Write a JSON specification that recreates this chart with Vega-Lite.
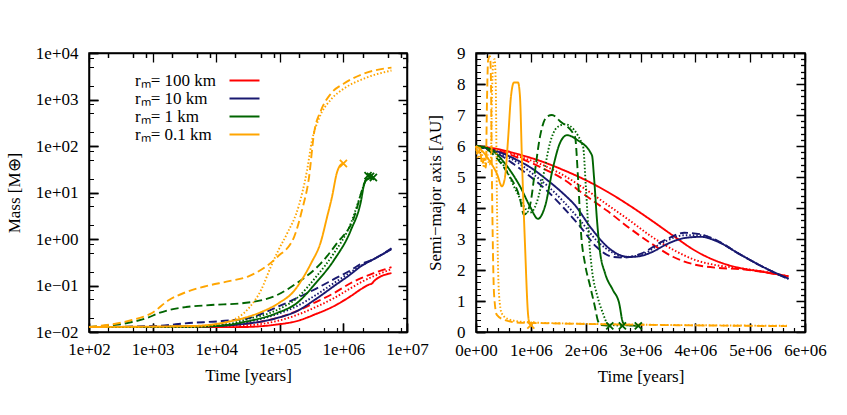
{
  "$schema": "https://vega.github.io/schema/vega-lite/v6.json",
  "background": "white",
  "padding": {"left": 4, "top": 43, "right": 5, "bottom": 5},
  "bounds": "flush",
  "spacing": 69,
  "config": {
    "font": "Liberation Serif",
    "view": {"stroke": "#000", "strokeWidth": 1.5},
    "axis": {"labelFont": "Liberation Serif", "titleFont": "Liberation Serif", "labelFontSize": 17, "titleFontSize": 17, "titleFontWeight": "normal", "labelColor": "#000", "titleColor": "#000", "grid": false, "labelFlush": false, "labelOverlap": false}
  },
  "datasets": {
    "mass": [
      {"t":100,"m":0.0128,"r":"100","s":"solid"},{"t":1000,"m":0.0127,"r":"100","s":"solid"},{"t":10000,"m":0.0127,"r":"100","s":"solid"},{"t":27400,"m":0.0128,"r":"100","s":"solid"},{"t":90400,"m":0.0145,"r":"100","s":"solid"},{"t":186000,"m":0.0172,"r":"100","s":"solid"},{"t":368000,"m":0.0243,"r":"100","s":"solid"},{"t":710000,"m":0.036,"r":"100","s":"solid"},{"t":1310000,"m":0.0593,"r":"100","s":"solid"},{"t":1900000,"m":0.0838,"r":"100","s":"solid"},{"t":2500000,"m":0.104,"r":"100","s":"solid"},{"t":2800000,"m":0.11,"r":"100","s":"solid"},{"t":3100000,"m":0.128,"r":"100","s":"solid"},{"t":5700000,"m":0.185,"r":"100","s":"solid"},
      {"t":100,"m":0.0128,"r":"100","s":"dashed"},{"t":3000,"m":0.013,"r":"100","s":"dashed"},{"t":27400,"m":0.0149,"r":"100","s":"dashed"},{"t":90400,"m":0.02,"r":"100","s":"dashed"},{"t":186000,"m":0.0282,"r":"100","s":"dashed"},{"t":368000,"m":0.044,"r":"100","s":"dashed"},{"t":710000,"m":0.0687,"r":"100","s":"dashed"},{"t":1310000,"m":0.113,"r":"100","s":"dashed"},{"t":1900000,"m":0.144,"r":"100","s":"dashed"},{"t":3000000,"m":0.185,"r":"100","s":"dashed"},{"t":5700000,"m":0.248,"r":"100","s":"dashed"},
      {"t":100,"m":0.0128,"r":"100","s":"dotted"},{"t":3000,"m":0.0128,"r":"100","s":"dotted"},{"t":27400,"m":0.0138,"r":"100","s":"dotted"},{"t":90400,"m":0.0172,"r":"100","s":"dotted"},{"t":186000,"m":0.0232,"r":"100","s":"dotted"},{"t":368000,"m":0.0344,"r":"100","s":"dotted"},{"t":710000,"m":0.0537,"r":"100","s":"dotted"},{"t":1310000,"m":0.0879,"r":"100","s":"dotted"},{"t":1900000,"m":0.118,"r":"100","s":"dotted"},{"t":3000000,"m":0.159,"r":"100","s":"dotted"},{"t":5700000,"m":0.225,"r":"100","s":"dotted"},
      {"t":100,"m":0.0128,"r":"10","s":"solid"},{"t":4480,"m":0.013,"r":"10","s":"solid"},{"t":27400,"m":0.0149,"r":"10","s":"solid"},{"t":90400,"m":0.02,"r":"10","s":"solid"},{"t":186000,"m":0.0282,"r":"10","s":"solid"},{"t":368000,"m":0.051,"r":"10","s":"solid"},{"t":710000,"m":0.097,"r":"10","s":"solid"},{"t":1310000,"m":0.176,"r":"10","s":"solid"},{"t":1900000,"m":0.261,"r":"10","s":"solid"},{"t":3000000,"m":0.369,"r":"10","s":"solid"},{"t":5700000,"m":0.604,"r":"10","s":"solid"},
      {"t":100,"m":0.0128,"r":"10","s":"dashed"},{"t":1130,"m":0.0135,"r":"10","s":"dashed"},{"t":3730,"m":0.0156,"r":"10","s":"dashed"},{"t":12300,"m":0.0172,"r":"10","s":"dashed"},{"t":32800,"m":0.02,"r":"10","s":"dashed"},{"t":90400,"m":0.0344,"r":"10","s":"dashed"},{"t":186000,"m":0.0537,"r":"10","s":"dashed"},{"t":368000,"m":0.085,"r":"10","s":"dashed"},{"t":710000,"m":0.137,"r":"10","s":"dashed"},{"t":1310000,"m":0.214,"r":"10","s":"dashed"},{"t":1750000,"m":0.274,"r":"10","s":"dashed"},{"t":3000000,"m":0.369,"r":"10","s":"dashed"},{"t":5700000,"m":0.63,"r":"10","s":"dashed"},
      {"t":100,"m":0.0128,"r":"10","s":"dotted"},{"t":3000,"m":0.013,"r":"10","s":"dotted"},{"t":27400,"m":0.016,"r":"10","s":"dotted"},{"t":90400,"m":0.0243,"r":"10","s":"dotted"},{"t":186000,"m":0.036,"r":"10","s":"dotted"},{"t":368000,"m":0.0622,"r":"10","s":"dotted"},{"t":710000,"m":0.113,"r":"10","s":"dotted"},{"t":1310000,"m":0.194,"r":"10","s":"dotted"},{"t":1850000,"m":0.261,"r":"10","s":"dotted"},{"t":3000000,"m":0.369,"r":"10","s":"dotted"},{"t":5700000,"m":0.604,"r":"10","s":"dotted"},
      {"t":100,"m":0.0128,"r":"1","s":"solid"},{"t":4480,"m":0.013,"r":"1","s":"solid"},{"t":14800,"m":0.0141,"r":"1","s":"solid"},{"t":27400,"m":0.0164,"r":"1","s":"solid"},{"t":90400,"m":0.0256,"r":"1","s":"solid"},{"t":186000,"m":0.042,"r":"1","s":"solid"},{"t":368000,"m":0.113,"r":"1","s":"solid"},{"t":710000,"m":0.351,"r":"1","s":"solid"},{"t":1310000,"m":1.55,"r":"1","s":"solid"},{"t":1900000,"m":6.8,"r":"1","s":"solid"},{"t":2100000,"m":14.3,"r":"1","s":"solid"},{"t":2350000,"m":19,"r":"1","s":"solid"},{"t":2960000,"m":21,"r":"1","s":"solid"},
      {"t":100,"m":0.0128,"r":"1","s":"dashed"},{"t":474,"m":0.0164,"r":"1","s":"dashed"},{"t":817,"m":0.02,"r":"1","s":"dashed"},{"t":1260,"m":0.0256,"r":"1","s":"dashed"},{"t":1810,"m":0.0297,"r":"1","s":"dashed"},{"t":3350,"m":0.0344,"r":"1","s":"dashed"},{"t":8280,"m":0.038,"r":"1","s":"dashed"},{"t":27400,"m":0.042,"r":"1","s":"dashed"},{"t":90400,"m":0.0622,"r":"1","s":"dashed"},{"t":186000,"m":0.113,"r":"1","s":"dashed"},{"t":445000,"m":0.303,"r":"1","s":"dashed"},{"t":793000,"m":0.813,"r":"1","s":"dashed"},{"t":1470000,"m":2.94,"r":"1","s":"dashed"},{"t":1960000,"m":11.1,"r":"1","s":"dashed"},{"t":2250000,"m":19,"r":"1","s":"dashed"},{"t":2440000,"m":23,"r":"1","s":"dashed"},
      {"t":100,"m":0.0128,"r":"1","s":"dotted"},{"t":4480,"m":0.013,"r":"1","s":"dotted"},{"t":14800,"m":0.0145,"r":"1","s":"dotted"},{"t":27400,"m":0.0181,"r":"1","s":"dotted"},{"t":90400,"m":0.0297,"r":"1","s":"dotted"},{"t":186000,"m":0.0537,"r":"1","s":"dotted"},{"t":368000,"m":0.151,"r":"1","s":"dotted"},{"t":710000,"m":0.496,"r":"1","s":"dotted"},{"t":1310000,"m":2.18,"r":"1","s":"dotted"},{"t":1900000,"m":9.6,"r":"1","s":"dotted"},{"t":2200000,"m":17.4,"r":"1","s":"dotted"},{"t":2670000,"m":22.3,"r":"1","s":"dotted"},
      {"t":100,"m":0.0128,"r":"0.1","s":"solid"},{"t":4480,"m":0.0135,"r":"0.1","s":"solid"},{"t":14800,"m":0.0164,"r":"0.1","s":"solid"},{"t":27400,"m":0.02,"r":"0.1","s":"solid"},{"t":50800,"m":0.0268,"r":"0.1","s":"solid"},{"t":96600,"m":0.042,"r":"0.1","s":"solid"},{"t":167000,"m":0.076,"r":"0.1","s":"solid"},{"t":241000,"m":0.16,"r":"0.1","s":"solid"},{"t":310000,"m":0.3,"r":"0.1","s":"solid"},{"t":445000,"m":0.9,"r":"0.1","s":"solid"},{"t":555000,"m":3.0,"r":"0.1","s":"solid"},{"t":660000,"m":7.9,"r":"0.1","s":"solid"},{"t":793000,"m":27,"r":"0.1","s":"solid"},{"t":885000,"m":38,"r":"0.1","s":"solid"},{"t":1000000,"m":42,"r":"0.1","s":"solid"},
      {"t":100,"m":0.0128,"r":"0.1","s":"dashed"},{"t":474,"m":0.0181,"r":"0.1","s":"dashed"},{"t":978,"m":0.0256,"r":"0.1","s":"dashed"},{"t":1810,"m":0.0487,"r":"0.1","s":"dashed"},{"t":3350,"m":0.072,"r":"0.1","s":"dashed"},{"t":6920,"m":0.097,"r":"0.1","s":"dashed"},{"t":15900,"m":0.124,"r":"0.1","s":"dashed"},{"t":32800,"m":0.159,"r":"0.1","s":"dashed"},{"t":90400,"m":0.406,"r":"0.1","s":"dashed"},{"t":167000,"m":1.09,"r":"0.1","s":"dashed"},{"t":223000,"m":4.15,"r":"0.1","s":"dashed"},{"t":288000,"m":21.2,"r":"0.1","s":"dashed"},{"t":345000,"m":186,"r":"0.1","s":"dashed"},{"t":444000,"m":581,"r":"0.1","s":"dashed"},{"t":638000,"m":1345,"r":"0.1","s":"dashed"},{"t":1020000,"m":2200,"r":"0.1","s":"dashed"},{"t":2100000,"m":3610,"r":"0.1","s":"dashed"},{"t":5700000,"m":4860,"r":"0.1","s":"dashed"},
      {"t":100,"m":0.0128,"r":"0.1","s":"dotted"},{"t":4470,"m":0.013,"r":"0.1","s":"dotted"},{"t":14800,"m":0.0164,"r":"0.1","s":"dotted"},{"t":32800,"m":0.033,"r":"0.1","s":"dotted"},{"t":50800,"m":0.08,"r":"0.1","s":"dotted"},{"t":72000,"m":0.25,"r":"0.1","s":"dotted"},{"t":96600,"m":0.6,"r":"0.1","s":"dotted"},{"t":130000,"m":1.3,"r":"0.1","s":"dotted"},{"t":200000,"m":5.31,"r":"0.1","s":"dotted"},{"t":268000,"m":29.9,"r":"0.1","s":"dotted"},{"t":321000,"m":132,"r":"0.1","s":"dotted"},{"t":413000,"m":391,"r":"0.1","s":"dotted"},{"t":638000,"m":1000,"r":"0.1","s":"dotted"},{"t":1020000,"m":1720,"r":"0.1","s":"dotted"},{"t":2110000,"m":2820,"r":"0.1","s":"dotted"},{"t":5700000,"m":4200,"r":"0.1","s":"dotted"}
    ],
    "sma": [
      {"t":0,"a":6.0,"r":"100","s":"solid"},{"t":400000,"a":5.9,"r":"100","s":"solid"},{"t":800000,"a":5.72,"r":"100","s":"solid"},{"t":1200000,"a":5.5,"r":"100","s":"solid"},{"t":1600000,"a":5.22,"r":"100","s":"solid"},{"t":2000000,"a":4.9,"r":"100","s":"solid"},{"t":2400000,"a":4.52,"r":"100","s":"solid"},{"t":2800000,"a":4.08,"r":"100","s":"solid"},{"t":3200000,"a":3.6,"r":"100","s":"solid"},{"t":3600000,"a":3.1,"r":"100","s":"solid"},{"t":4000000,"a":2.62,"r":"100","s":"solid"},{"t":4400000,"a":2.28,"r":"100","s":"solid"},{"t":4800000,"a":2.07,"r":"100","s":"solid"},{"t":5200000,"a":1.95,"r":"100","s":"solid"},{"t":5700000,"a":1.8,"r":"100","s":"solid"},
      {"t":0,"a":6.0,"r":"100","s":"dashed"},{"t":400000,"a":5.85,"r":"100","s":"dashed"},{"t":800000,"a":5.6,"r":"100","s":"dashed"},{"t":1200000,"a":5.3,"r":"100","s":"dashed"},{"t":1600000,"a":4.92,"r":"100","s":"dashed"},{"t":2000000,"a":4.4,"r":"100","s":"dashed"},{"t":2400000,"a":3.9,"r":"100","s":"dashed"},{"t":2800000,"a":3.35,"r":"100","s":"dashed"},{"t":3200000,"a":2.85,"r":"100","s":"dashed"},{"t":3600000,"a":2.42,"r":"100","s":"dashed"},{"t":4000000,"a":2.17,"r":"100","s":"dashed"},{"t":4400000,"a":2.07,"r":"100","s":"dashed"},{"t":4800000,"a":2.03,"r":"100","s":"dashed"},{"t":5200000,"a":1.95,"r":"100","s":"dashed"},{"t":5700000,"a":1.78,"r":"100","s":"dashed"},
      {"t":0,"a":6.0,"r":"100","s":"dotted"},{"t":400000,"a":5.88,"r":"100","s":"dotted"},{"t":800000,"a":5.65,"r":"100","s":"dotted"},{"t":1200000,"a":5.4,"r":"100","s":"dotted"},{"t":1600000,"a":5.05,"r":"100","s":"dotted"},{"t":2000000,"a":4.6,"r":"100","s":"dotted"},{"t":2400000,"a":4.1,"r":"100","s":"dotted"},{"t":2800000,"a":3.6,"r":"100","s":"dotted"},{"t":3200000,"a":3.08,"r":"100","s":"dotted"},{"t":3600000,"a":2.65,"r":"100","s":"dotted"},{"t":4000000,"a":2.32,"r":"100","s":"dotted"},{"t":4400000,"a":2.15,"r":"100","s":"dotted"},{"t":4800000,"a":2.06,"r":"100","s":"dotted"},{"t":5200000,"a":1.96,"r":"100","s":"dotted"},{"t":5700000,"a":1.79,"r":"100","s":"dotted"},
      {"t":0,"a":6.0,"r":"10","s":"solid"},{"t":400000,"a":5.82,"r":"10","s":"solid"},{"t":800000,"a":5.5,"r":"10","s":"solid"},{"t":1000000,"a":5.3,"r":"10","s":"solid"},{"t":1300000,"a":4.9,"r":"10","s":"solid"},{"t":1600000,"a":4.45,"r":"10","s":"solid"},{"t":1800000,"a":4.1,"r":"10","s":"solid"},{"t":2100000,"a":3.35,"r":"10","s":"solid"},{"t":2400000,"a":2.74,"r":"10","s":"solid"},{"t":2600000,"a":2.5,"r":"10","s":"solid"},{"t":2800000,"a":2.42,"r":"10","s":"solid"},{"t":3000000,"a":2.45,"r":"10","s":"solid"},{"t":3200000,"a":2.57,"r":"10","s":"solid"},{"t":3500000,"a":2.85,"r":"10","s":"solid"},{"t":3800000,"a":3.03,"r":"10","s":"solid"},{"t":4100000,"a":3.07,"r":"10","s":"solid"},{"t":4400000,"a":2.92,"r":"10","s":"solid"},{"t":4800000,"a":2.52,"r":"10","s":"solid"},{"t":5200000,"a":2.13,"r":"10","s":"solid"},{"t":5700000,"a":1.72,"r":"10","s":"solid"},
      {"t":0,"a":6.0,"r":"10","s":"dashed"},{"t":400000,"a":5.75,"r":"10","s":"dashed"},{"t":700000,"a":5.4,"r":"10","s":"dashed"},{"t":1000000,"a":5.0,"r":"10","s":"dashed"},{"t":1300000,"a":4.55,"r":"10","s":"dashed"},{"t":1600000,"a":4.0,"r":"10","s":"dashed"},{"t":1900000,"a":3.4,"r":"10","s":"dashed"},{"t":2200000,"a":2.74,"r":"10","s":"dashed"},{"t":2500000,"a":2.42,"r":"10","s":"dashed"},{"t":2700000,"a":2.4,"r":"10","s":"dashed"},{"t":3000000,"a":2.52,"r":"10","s":"dashed"},{"t":3400000,"a":2.92,"r":"10","s":"dashed"},{"t":3800000,"a":3.2,"r":"10","s":"dashed"},{"t":4100000,"a":3.15,"r":"10","s":"dashed"},{"t":4400000,"a":2.95,"r":"10","s":"dashed"},{"t":4800000,"a":2.52,"r":"10","s":"dashed"},{"t":5200000,"a":2.13,"r":"10","s":"dashed"},{"t":5700000,"a":1.7,"r":"10","s":"dashed"},
      {"t":0,"a":6.0,"r":"10","s":"dotted"},{"t":400000,"a":5.78,"r":"10","s":"dotted"},{"t":800000,"a":5.42,"r":"10","s":"dotted"},{"t":1000000,"a":5.15,"r":"10","s":"dotted"},{"t":1300000,"a":4.72,"r":"10","s":"dotted"},{"t":1600000,"a":4.2,"r":"10","s":"dotted"},{"t":1900000,"a":3.6,"r":"10","s":"dotted"},{"t":2200000,"a":2.95,"r":"10","s":"dotted"},{"t":2500000,"a":2.55,"r":"10","s":"dotted"},{"t":2700000,"a":2.42,"r":"10","s":"dotted"},{"t":3000000,"a":2.48,"r":"10","s":"dotted"},{"t":3400000,"a":2.88,"r":"10","s":"dotted"},{"t":3800000,"a":3.12,"r":"10","s":"dotted"},{"t":4100000,"a":3.12,"r":"10","s":"dotted"},{"t":4400000,"a":2.93,"r":"10","s":"dotted"},{"t":4800000,"a":2.52,"r":"10","s":"dotted"},{"t":5200000,"a":2.13,"r":"10","s":"dotted"},{"t":5700000,"a":1.71,"r":"10","s":"dotted"},
      {"t":0,"a":6.0,"r":"1","s":"solid"},{"t":255000,"a":5.9,"r":"1","s":"solid"},{"t":565000,"a":5.35,"r":"1","s":"solid"},{"t":802000,"a":4.7,"r":"1","s":"solid"},{"t":985000,"a":4.05,"r":"1","s":"solid"},{"t":1131000,"a":3.65,"r":"1","s":"solid"},{"t":1258000,"a":4.05,"r":"1","s":"solid"},{"t":1404000,"a":5.3,"r":"1","s":"solid"},{"t":1532000,"a":6.1,"r":"1","s":"solid"},{"t":1660000,"a":6.35,"r":"1","s":"solid"},{"t":1842000,"a":6.2,"r":"1","s":"solid"},{"t":2115000,"a":5.7,"r":"1","s":"solid"},{"t":2152000,"a":5.0,"r":"1","s":"solid"},{"t":2207000,"a":3.6,"r":"1","s":"solid"},{"t":2261000,"a":2.6,"r":"1","s":"solid"},{"t":2353000,"a":1.9,"r":"1","s":"solid"},{"t":2498000,"a":1.35,"r":"1","s":"solid"},{"t":2608000,"a":0.95,"r":"1","s":"solid"},{"t":2681000,"a":0.3,"r":"1","s":"solid"},{"t":2736000,"a":0.22,"r":"1","s":"solid"},{"t":2960000,"a":0.2,"r":"1","s":"solid"},
      {"t":0,"a":6.0,"r":"1","s":"dashed"},{"t":255000,"a":5.82,"r":"1","s":"dashed"},{"t":565000,"a":5.15,"r":"1","s":"dashed"},{"t":802000,"a":4.3,"r":"1","s":"dashed"},{"t":875000,"a":3.78,"r":"1","s":"dashed"},{"t":985000,"a":4.1,"r":"1","s":"dashed"},{"t":1076000,"a":5.2,"r":"1","s":"dashed"},{"t":1167000,"a":6.3,"r":"1","s":"dashed"},{"t":1295000,"a":6.95,"r":"1","s":"dashed"},{"t":1386000,"a":7.0,"r":"1","s":"dashed"},{"t":1532000,"a":6.8,"r":"1","s":"dashed"},{"t":1805000,"a":6.3,"r":"1","s":"dashed"},{"t":1860000,"a":5.0,"r":"1","s":"dashed"},{"t":1915000,"a":3.2,"r":"1","s":"dashed"},{"t":1988000,"a":2.2,"r":"1","s":"dashed"},{"t":2079000,"a":1.5,"r":"1","s":"dashed"},{"t":2170000,"a":0.8,"r":"1","s":"dashed"},{"t":2225000,"a":0.35,"r":"1","s":"dashed"},{"t":2280000,"a":0.22,"r":"1","s":"dashed"},{"t":2440000,"a":0.2,"r":"1","s":"dashed"},
      {"t":0,"a":6.0,"r":"1","s":"dotted"},{"t":255000,"a":5.9,"r":"1","s":"dotted"},{"t":529000,"a":5.3,"r":"1","s":"dotted"},{"t":748000,"a":4.5,"r":"1","s":"dotted"},{"t":985000,"a":3.85,"r":"1","s":"dotted"},{"t":1112000,"a":4.2,"r":"1","s":"dotted"},{"t":1222000,"a":5.0,"r":"1","s":"dotted"},{"t":1350000,"a":6.1,"r":"1","s":"dotted"},{"t":1477000,"a":6.6,"r":"1","s":"dotted"},{"t":1623000,"a":6.7,"r":"1","s":"dotted"},{"t":1951000,"a":6.0,"r":"1","s":"dotted"},{"t":2006000,"a":4.6,"r":"1","s":"dotted"},{"t":2061000,"a":3.0,"r":"1","s":"dotted"},{"t":2115000,"a":2.0,"r":"1","s":"dotted"},{"t":2207000,"a":1.2,"r":"1","s":"dotted"},{"t":2316000,"a":0.6,"r":"1","s":"dotted"},{"t":2407000,"a":0.25,"r":"1","s":"dotted"},{"t":2670000,"a":0.2,"r":"1","s":"dotted"},
      {"t":0,"a":6.0,"r":"0.1","s":"solid"},{"t":109000,"a":5.85,"r":"0.1","s":"solid"},{"t":255000,"a":5.5,"r":"0.1","s":"solid"},{"t":383000,"a":5.1,"r":"0.1","s":"solid"},{"t":474000,"a":4.7,"r":"0.1","s":"solid"},{"t":529000,"a":5.0,"r":"0.1","s":"solid"},{"t":584000,"a":6.2,"r":"0.1","s":"solid"},{"t":638000,"a":7.6,"r":"0.1","s":"solid"},{"t":693000,"a":8.05,"r":"0.1","s":"solid"},{"t":766000,"a":8.05,"r":"0.1","s":"solid"},{"t":802000,"a":7.6,"r":"0.1","s":"solid"},{"t":839000,"a":5.5,"r":"0.1","s":"solid"},{"t":894000,"a":2.8,"r":"0.1","s":"solid"},{"t":948000,"a":0.6,"r":"0.1","s":"solid"},{"t":975000,"a":0.28,"r":"0.1","s":"solid"},{"t":1000000,"a":0.22,"r":"0.1","s":"solid"},
      {"t":0,"a":6.0,"r":"0.1","s":"dashed"},{"t":40000,"a":5.7,"r":"0.1","s":"dashed"},{"t":70000,"a":5.95,"r":"0.1","s":"dashed"},{"t":110000,"a":5.4,"r":"0.1","s":"dashed"},{"t":150000,"a":5.6,"r":"0.1","s":"dashed"},{"t":180000,"a":5.3,"r":"0.1","s":"dashed"},{"t":200000,"a":7.4,"r":"0.1","s":"dashed"},{"t":220000,"a":8.75,"r":"0.1","s":"dashed"},{"t":255000,"a":8.9,"r":"0.1","s":"dashed"},{"t":270000,"a":8.4,"r":"0.1","s":"dashed"},{"t":290000,"a":5.0,"r":"0.1","s":"dashed"},{"t":330000,"a":1.2,"r":"0.1","s":"dashed"},{"t":380000,"a":0.55,"r":"0.1","s":"dashed"},{"t":530000,"a":0.38,"r":"0.1","s":"dashed"},{"t":800000,"a":0.3,"r":"0.1","s":"dashed"},{"t":1350000,"a":0.28,"r":"0.1","s":"dashed"},{"t":3170000,"a":0.23,"r":"0.1","s":"dashed"},{"t":5670000,"a":0.19,"r":"0.1","s":"dashed"},
      {"t":0,"a":6.0,"r":"0.1","s":"dotted"},{"t":40000,"a":5.6,"r":"0.1","s":"dotted"},{"t":90000,"a":5.9,"r":"0.1","s":"dotted"},{"t":150000,"a":5.3,"r":"0.1","s":"dotted"},{"t":200000,"a":5.8,"r":"0.1","s":"dotted"},{"t":240000,"a":5.4,"r":"0.1","s":"dotted"},{"t":270000,"a":5.5,"r":"0.1","s":"dotted"},{"t":290000,"a":7.5,"r":"0.1","s":"dotted"},{"t":310000,"a":8.6,"r":"0.1","s":"dotted"},{"t":340000,"a":8.8,"r":"0.1","s":"dotted"},{"t":360000,"a":8.0,"r":"0.1","s":"dotted"},{"t":380000,"a":4.5,"r":"0.1","s":"dotted"},{"t":420000,"a":1.2,"r":"0.1","s":"dotted"},{"t":470000,"a":0.6,"r":"0.1","s":"dotted"},{"t":580000,"a":0.42,"r":"0.1","s":"dotted"},{"t":890000,"a":0.32,"r":"0.1","s":"dotted"},{"t":1530000,"a":0.28,"r":"0.1","s":"dotted"},{"t":5670000,"a":0.2,"r":"0.1","s":"dotted"}
    ],
    "ends": [
      {"t":1000000,"m":42,"a":0.22,"r":"0.1"},
      {"t":2440000,"m":23,"a":0.2,"r":"1"},
      {"t":2670000,"m":22.3,"a":0.2,"r":"1"},
      {"t":2960000,"m":21,"a":0.2,"r":"1"}
    ]
  },
  "hconcat": [
    {
      "width": 318, "height": 279,
      "layer": [
        {
          "data": {"name": "mass"},
          "mark": {"type": "line", "strokeWidth": 1.9, "interpolate": "monotone"},
          "encoding": {
            "x": {"field": "t", "type": "quantitative", "scale": {"type": "log", "domain": [100, 10000000]},
                  "axis": {"orient": "bottom", "title": "Time [years]", "titlePadding": 10, "labelPadding": 18, "tickSize": -9, "tickColor": "black", "tickWidth": 1.5, "domainColor": "black", "domainWidth": 1.5,
                           "grid": true, "gridColor": "black", "gridWidth": 1.3, "gridOpacity": 1, "gridDash": [9, 261, 9, 2000],
                           "values": [100,1000,10000,100000,1000000,10000000],
                           "labelExpr": "'1e+0' + round(log(datum.value)/LN10)"}},
            "y": {"field": "m", "type": "quantitative", "scale": {"type": "log", "domain": [0.01, 10000]},
                  "axis": {"orient": "left", "title": "Mass [M⊕]", "titlePadding": 12, "labelPadding": 20, "tickSize": -9, "tickColor": "black", "tickWidth": 1.5, "domainColor": "black", "domainWidth": 1.5,
                           "grid": true, "gridColor": "black", "gridWidth": 1.3, "gridOpacity": 1, "gridDash": [9, 300, 9, 2000],
                           "values": [0.01,0.1,1,10,100,1000,10000],
                           "labelExpr": "'1e' + (datum.value < 1 ? '−0' : '+0') + abs(round(log(datum.value)/LN10))"}},
            "color": {"field": "r", "type": "nominal", "scale": {"domain": ["100","10","1","0.1"], "range": ["#ff0000","#191970","#006400","#ffa500"]},
                      "legend": {"orient": "top-left", "offset": 19, "padding": 0, "title": null, "symbolType": "M-5,0H5", "symbolSize": 36, "symbolStrokeWidth": 2,
                                 "labelExpr": "'rₘ= ' + datum.label + ' km'", "labelFont": "Liberation Serif", "labelFontSize": 17, "labelColor": "#000",
                                 "labelOffset": -118, "symbolOffset": 128, "rowPadding": 0}},
            "strokeDash": {"field": "s", "type": "nominal", "scale": {"domain": ["solid","dashed","dotted"], "range": [[1,0],[8,4],[1.5,2]]}, "legend": null}
          }
        },
        {
          "data": {"name": "ends"},
          "mark": {"type": "point", "shape": "M-1,-1L1,1M-1,1L1,-1", "filled": false, "size": 50, "strokeWidth": 1.8, "opacity": 1},
          "encoding": {
            "x": {"field": "t", "type": "quantitative", "scale": {"type": "log", "domain": [100, 10000000]},
                  "axis": {"orient": "top", "title": null, "labels": false, "tickSize": -4.5, "tickColor": "black", "tickWidth": 1.3, "domainColor": "black", "domainWidth": 1.5,
                           "grid": true, "gridColor": "black", "gridWidth": 1.2, "gridOpacity": 1, "gridDash": [4.5, 270, 4.5, 2000],
                           "values": [200,500,800,2000,5000,8000,20000,50000,80000,200000,500000,800000,2000000,5000000,8000000]}},
            "y": {"field": "m", "type": "quantitative", "scale": {"type": "log", "domain": [0.01, 10000]},
                  "axis": {"orient": "right", "title": null, "labels": false, "tickSize": -4.5, "tickColor": "black", "tickWidth": 1.3, "domainColor": "black", "domainWidth": 1.5,
                           "grid": true, "gridColor": "black", "gridWidth": 1.2, "gridOpacity": 1, "gridDash": [4.5, 309, 4.5, 2000],
                           "values": [0.02,0.05,0.08,0.2,0.5,0.8,2,5,8,20,50,80,200,500,800,2000,5000,8000]}},
            "color": {"field": "r", "type": "nominal"}
          }
        }
      ],
      "resolve": {"axis": {"x": "independent", "y": "independent"}}
    },
    {
      "width": 329, "height": 279,
      "layer": [
        {
          "data": {"name": "sma"},
          "mark": {"type": "line", "strokeWidth": 1.9, "interpolate": "monotone"},
          "encoding": {
            "x": {"field": "t", "type": "quantitative", "scale": {"domain": [0, 6000000], "nice": false},
                  "axis": {"orient": "bottom", "title": "Time [years]", "titlePadding": 10, "labelPadding": 19, "tickSize": -9, "tickColor": "black", "tickWidth": 1.5, "domainColor": "black", "domainWidth": 1.5,
                           "grid": true, "gridColor": "black", "gridWidth": 1.3, "gridOpacity": 1, "gridDash": [9, 261, 9, 2000],
                           "values": [0,1000000,2000000,3000000,4000000,5000000,6000000],
                           "labelExpr": "(datum.value / 1000000) + 'e+0' + (datum.value == 0 ? '0' : '6')"}},
            "y": {"field": "a", "type": "quantitative", "scale": {"domain": [0, 9], "nice": false},
                  "axis": {"orient": "left", "title": "Semi−major axis [AU]", "titlePadding": 12, "labelPadding": 20, "tickSize": -9, "tickColor": "black", "tickWidth": 1.5, "domainColor": "black", "domainWidth": 1.5,
                           "grid": true, "gridColor": "black", "gridWidth": 1.3, "gridOpacity": 1, "gridDash": [9, 311, 9, 2000],
                           "values": [0,1,2,3,4,5,6,7,8,9], "format": "d"}},
            "color": {"field": "r", "type": "nominal", "scale": {"domain": ["100","10","1","0.1"], "range": ["#ff0000","#191970","#006400","#ffa500"]}, "legend": null},
            "strokeDash": {"field": "s", "type": "nominal", "scale": {"domain": ["solid","dashed","dotted"], "range": [[1,0],[8,4],[1.5,2]]}, "legend": null}
          }
        },
        {
          "data": {"name": "ends"},
          "mark": {"type": "point", "shape": "M-1,-1L1,1M-1,1L1,-1", "filled": false, "size": 50, "strokeWidth": 1.8, "opacity": 1},
          "encoding": {
            "x": {"field": "t", "type": "quantitative", "scale": {"domain": [0, 6000000], "nice": false},
                  "axis": {"orient": "top", "title": null, "labels": false, "tickSize": -4.5, "tickColor": "black", "tickWidth": 1.3, "domainColor": "black", "domainWidth": 1.5,
                           "grid": true, "gridColor": "black", "gridWidth": 1.2, "gridOpacity": 1, "gridDash": [4.5, 270, 4.5, 2000],
                           "values": [200000,400000,600000,800000,1200000,1400000,1600000,1800000,2200000,2400000,2600000,2800000,3200000,3400000,3600000,3800000,4200000,4400000,4600000,4800000,5200000,5400000,5600000,5800000]}},
            "y": {"field": "a", "type": "quantitative", "scale": {"domain": [0, 9], "nice": false},
                  "axis": {"orient": "right", "title": null, "labels": false, "tickSize": -4.5, "tickColor": "black", "tickWidth": 1.3, "domainColor": "black", "domainWidth": 1.5,
                           "grid": true, "gridColor": "black", "gridWidth": 1.2, "gridOpacity": 1, "gridDash": [4.5, 320, 4.5, 2000],
                           "values": [0.2,0.4,0.6,0.8,1.2,1.4,1.6,1.8,2.2,2.4,2.6,2.8,3.2,3.4,3.6,3.8,4.2,4.4,4.6,4.8,5.2,5.4,5.6,5.8,6.2,6.4,6.6,6.8,7.2,7.4,7.6,7.8,8.2,8.4,8.6,8.8]}},
            "color": {"field": "r", "type": "nominal", "legend": null}
          }
        }
      ],
      "resolve": {"axis": {"x": "independent", "y": "independent"}}
    }
  ]
}
